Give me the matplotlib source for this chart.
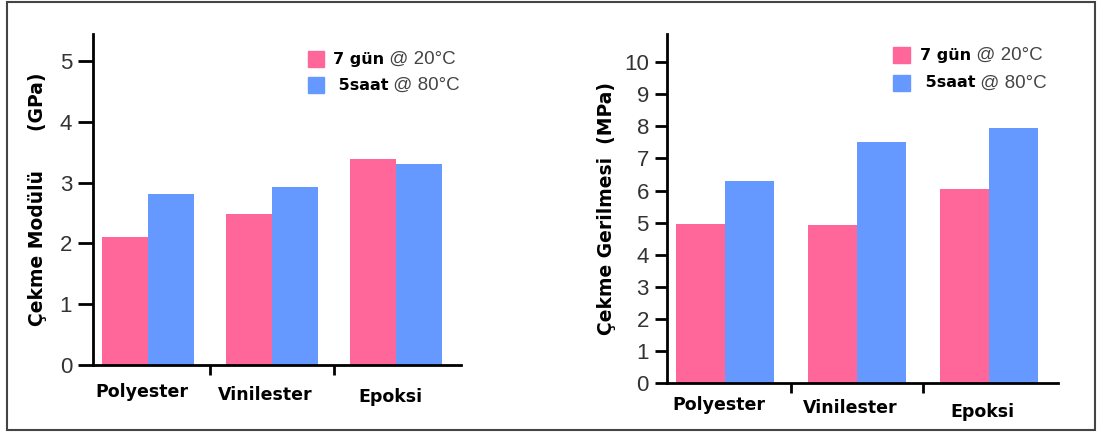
import matplotlib.pyplot as plt
import numpy as np
from matplotlib.patches import Rectangle

# data
categories = ["Polyester", "Vinilester", "Epoksi"]
modul_20 = [2.10, 2.48, 3.39]      # GPa, 7 gün @ 20°C
modul_80 = [2.81, 2.92, 3.30]      # GPa, 5saat @ 80°C
gerilme_20 = [4.95, 4.92, 6.04]    # MPa
gerilme_80 = [6.29, 7.51, 7.94]    # MPa

PINK = "#FF6699"
BLUE = "#6699FF"
num_font = ["Liberation Sans", "DejaVu Sans"]
bold_font = ["DejaVu Sans", "Liberation Sans"]

fig = plt.figure(figsize=(11.01, 4.32), dpi=100)

# outer frame
fig.patches.append(Rectangle((7 / 1101, 1 - 430 / 432), 1088 / 1101, 428 / 432,
                             transform=fig.transFigure, fill=False,
                             edgecolor="#444444", linewidth=1.5))


def draw_panel(ax, v1, v2, ymax, yticks, ylabel, lab_dy, leg, tlen, lpad):
    x = np.arange(len(categories))
    w = 0.37
    ax.bar(x - w / 2, v1, w, color=PINK, zorder=2)
    ax.bar(x + w / 2, v2, w, color=BLUE, zorder=2)
    ax.set_xlim(-0.44, 2.52)
    ax.set_ylim(0, ymax)
    for s in ["top", "right"]:
        ax.spines[s].set_visible(False)
    for s in ["left", "bottom"]:
        ax.spines[s].set_linewidth(2)
        ax.spines[s].set_color("black")
    ax.set_yticks(yticks)
    ax.set_yticklabels([str(t) for t in yticks], fontfamily=num_font,
                       fontsize=16, color="#333333")
    ax.tick_params(axis="y", direction="out", length=tlen, width=2, pad=4)
    # boundaries between groups get the tick marks
    ax.set_xticks([0.5, 1.5])
    ax.set_xticklabels([])
    ax.tick_params(axis="x", direction="out", length=7, width=2)
    for i, c in enumerate(categories):
        ax.text(x[i] - 0.05, -lab_dy[i], c, transform=ax.get_xaxis_transform(),
                ha="center", va="center", fontsize=12.5, fontweight="bold",
                fontfamily=bold_font)
    ax.set_ylabel(ylabel, fontsize=13.5, fontweight="bold", fontfamily=bold_font,
                  labelpad=lpad)
    # legend drawn by hand to keep the bold/regular mix
    sx, tx, y1, y2 = leg
    for yy, col, b, r in [(y1, PINK, "7 gün", "@ 20°C"),
                          (y2, BLUE, " 5saat", "@ 80°C")]:
        ax.add_patch(Rectangle((sx, yy - 0.024), 0.043, 0.048,
                               transform=ax.transAxes, color=col,
                               clip_on=False))
        t = ax.text(tx, yy, b, transform=ax.transAxes, ha="left",
                    va="center", fontsize=11.5, fontweight="bold",
                    fontfamily=bold_font)
        ax.annotate(" " + r, xycoords=t, xy=(1, 0.5), ha="left", va="center",
                    fontsize=13.5, fontfamily=num_font, color="#444444")


ax1 = fig.add_axes([0.0845, 0.155, 0.334, 0.766])
draw_panel(ax1, modul_20, modul_80, 5.44, [0, 1, 2, 3, 4, 5],
           "Çekme Modülü      (GPa)", [0.082, 0.09, 0.097],
           (0.584, 0.652, 0.924, 0.846), 11, 9)

ax2 = fig.add_axes([0.6058, 0.113, 0.355, 0.808])
draw_panel(ax2, gerilme_20, gerilme_80, 10.87, list(range(11)),
           "Çekme Gerilmesi  (MPa)", [0.063, 0.072, 0.083],
           (0.578, 0.647, 0.94, 0.86), 9, 6)

fig.savefig("out.png", dpi=100)
